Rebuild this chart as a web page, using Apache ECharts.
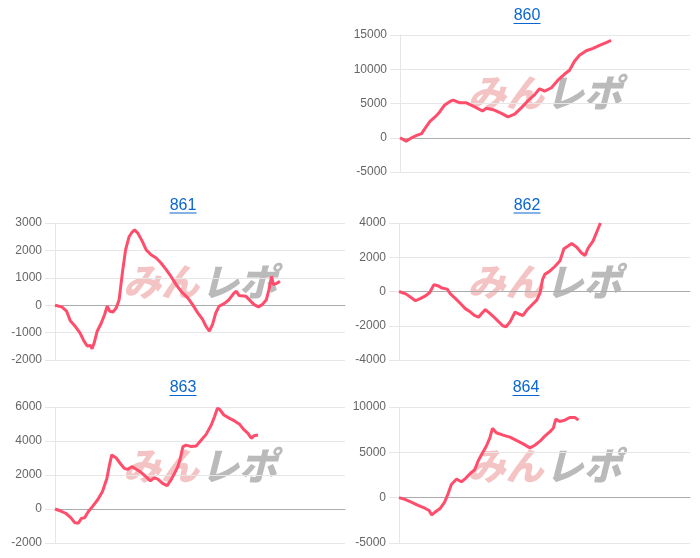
<!DOCTYPE html>
<html>
<head>
<meta charset="utf-8">
<script src="https://cdn.jsdelivr.net/npm/echarts@6/dist/echarts.min.js"></script>
<style>
  html, body { margin: 0; padding: 0; background: #fff; }
  #chart { width: 700px; height: 558px; }
</style>
</head>
<body>
<div id="chart"></div>
<script>
// machine numbers shown as titles
const titles = ["860", "861", "862", "863", "864"];

// games played / coin difference
const games860 = [0,190,360,520,670,810,930,1080,1220,1370,1550,1650,1860,2060,2320,2560,2680,2890,3150,3350,3560,3770,3970,4180,4330,4490,4700,4900,5110,5260,5420,5570,5780,5990,6190,6400,6550];
const diff860 = [0,-500,0,350,600,1600,2400,3000,3700,4700,5300,5500,5100,5100,4500,3900,4300,4100,3550,3050,3450,4400,5400,6300,7150,6800,7300,8400,9300,9850,11200,12050,12700,13050,13500,13900,14200];

const games861 = [0,210,360,480,620,770,900,1000,1100,1150,1210,1310,1440,1540,1620,1700,1800,1900,1990,2090,2190,2300,2400,2470,2570,2710,2830,2980,3140,3290,3450,3600,3760,3910,4120,4270,4430,4580,4680,4790,4890,4990,5090,5250,5400,5560,5630,5710,5920,6070,6180,6310,6430,6560,6640,6720,6780,6870,6980];
const diff861 = [0,-60,-220,-580,-760,-1000,-1310,-1490,-1470,-1590,-1400,-950,-640,-340,-40,-220,-250,-100,200,1170,2020,2500,2680,2750,2630,2330,2020,1840,1720,1540,1300,1050,750,510,270,20,-280,-520,-760,-950,-700,-280,-40,60,200,450,510,350,330,150,20,-60,20,200,570,1050,750,790,870];

const games862 = [0,210,360,510,670,820,950,1080,1200,1330,1490,1590,1740,1900,2050,2210,2330,2460,2570,2670,2800,2920,3080,3210,3310,3440,3590,3690,3830,3950,4100,4260,4360,4440,4510,4670,4820,4980,5100,5230,5340,5490,5640,5750,5850,6000,6100,6230];
const diff862 = [0,-140,-340,-540,-400,-260,-60,400,340,200,140,-140,-400,-700,-1000,-1200,-1400,-1500,-1260,-1060,-1260,-1460,-1760,-2000,-2060,-1760,-1200,-1300,-1400,-1100,-800,-500,-100,700,1000,1200,1460,1800,2500,2660,2800,2600,2260,2100,2540,2940,3400,4000];

const games863 = [0,180,330,490,610,720,820,920,1030,1160,1320,1470,1610,1680,1760,1890,2020,2150,2250,2380,2510,2670,2820,2960,3080,3190,3340,3480,3580,3710,3810,3890,3970,4070,4230,4380,4540,4690,4850,4950,5040,5110,5240,5420,5570,5730,5870,5990,6090,6180,6300];
const diff863 = [0,-120,-250,-510,-800,-840,-550,-510,-160,140,530,1020,1800,2490,3180,3020,2690,2390,2330,2490,2350,2160,1900,1650,1840,1760,1510,1370,1650,2100,2490,2980,3670,3760,3670,3710,4060,4390,4940,5430,5920,5860,5530,5330,5180,4980,4650,4450,4160,4310,4350];

const games864 = [0,180,380,590,800,930,1010,1140,1280,1410,1520,1620,1780,1930,2060,2210,2340,2450,2550,2700,2810,2890,3010,3220,3430,3630,3840,4050,4200,4360,4510,4670,4770,4850,4970,5130,5280,5440,5550];
const diff864 = [0,-190,-490,-860,-1160,-1420,-1900,-1530,-1160,-490,450,1460,2050,1750,2130,2690,3060,4070,4740,5670,6600,7650,7160,6900,6680,6310,5930,5490,5780,6230,6790,7280,7650,8660,8400,8550,8840,8840,8550];

// y axis ranges
const yMin = [-5000, -2000, -4000, -2000, -5000];
const yMax = [15000, 3000, 4000, 6000, 10000];
const yStep = [5000, 1000, 2000, 2000, 5000];
const maxGames = 9000;

const allGames = [games860, games861, games862, games863, games864];
const allDiff = [diff860, diff861, diff862, diff863, diff864];

// panel boxes on the 700x558 canvas
const boxes = [
  { left: 400, right: 10, top: 35, bottom: 386, cx: 527, ty: 16, uy: 23.5, wy: 93 },
  { left: 55, right: 355, top: 223, bottom: 198, cx: 183, ty: 205.5, uy: 213, wy: 282 },
  { left: 399, right: 10, top: 223, bottom: 198, cx: 527, ty: 205.5, uy: 213, wy: 282 },
  { left: 55, right: 355, top: 407, bottom: 15, cx: 183, ty: 388, uy: 395.5, wy: 466 },
  { left: 399, right: 10, top: 407, bottom: 15, cx: 526, ty: 388, uy: 395.5, wy: 466 },
];

const linkColor = "#0b66d0";
const gridColor = "#e6e6e6";

const grid = [], xAxis = [], yAxis = [], series = [], graphic = [];
boxes.forEach((b, i) => {
  grid.push({ left: b.left, right: b.right, top: b.top, bottom: b.bottom });
  xAxis.push({
    type: "value", gridIndex: i, min: 0, max: maxGames,
    axisLabel: { show: false }, axisTick: { show: false }, splitLine: { show: false },
    axisLine: { show: true, onZero: true, lineStyle: { color: "#acacac", width: 1 } },
  });
  yAxis.push({
    type: "value", gridIndex: i, min: yMin[i], max: yMax[i], interval: yStep[i],
    axisLine: { show: true, lineStyle: { color: gridColor } },
    axisTick: { show: true, length: 10, lineStyle: { color: gridColor } },
    axisLabel: {
      color: "#666", fontSize: 12, fontFamily: "Liberation Sans", margin: 13,
      formatter: (v) => String(v),
    },
    splitLine: { show: true, lineStyle: { color: gridColor } },
  });
  series.push({
    type: "line", xAxisIndex: i, yAxisIndex: i,
    data: allGames[i].map((g, k) => [g, allDiff[i][k]]),
    symbol: "none",
    lineStyle: { color: "#ff4d6b", width: 3 },
    itemStyle: { color: "#ff4d6b" },
    z: 5,
  });
  // title (link style)
  graphic.push({
    type: "text", x: b.cx, y: b.ty,
    style: { text: titles[i], font: '16px "Liberation Sans"', fill: linkColor, textAlign: "center", textVerticalAlign: "middle", verticalAlign: "middle" },
  });
  graphic.push({
    type: "line",
    shape: { x1: b.cx - 13.5, y1: b.uy, x2: b.cx + 13.5, y2: b.uy },
    style: { stroke: linkColor, lineWidth: 1 },
  });
  // watermark
  const wx = (b.left + (700 - b.right)) / 2;
  graphic.push({
    type: "text", x: wx - 1, y: b.wy, z: -1,
    style: { text: "みん", font: 'italic 900 38px "Noto Sans CJK JP"', fill: "rgba(226,100,100,0.38)", textAlign: "right", textVerticalAlign: "middle", verticalAlign: "middle" },
  });
  graphic.push({
    type: "text", x: wx + 1, y: b.wy, z: -1,
    style: { text: "レポ", font: 'italic 900 38px "Noto Sans CJK JP"', fill: "rgba(140,140,140,0.6)", textAlign: "left", textVerticalAlign: "middle", verticalAlign: "middle" },
  });
});

const chart = echarts.init(document.getElementById("chart"));
chart.setOption({
  animation: false,
  grid, xAxis, yAxis, series, graphic,
});
window.addEventListener("resize", () => chart.resize());
</script>
</body>
</html>
